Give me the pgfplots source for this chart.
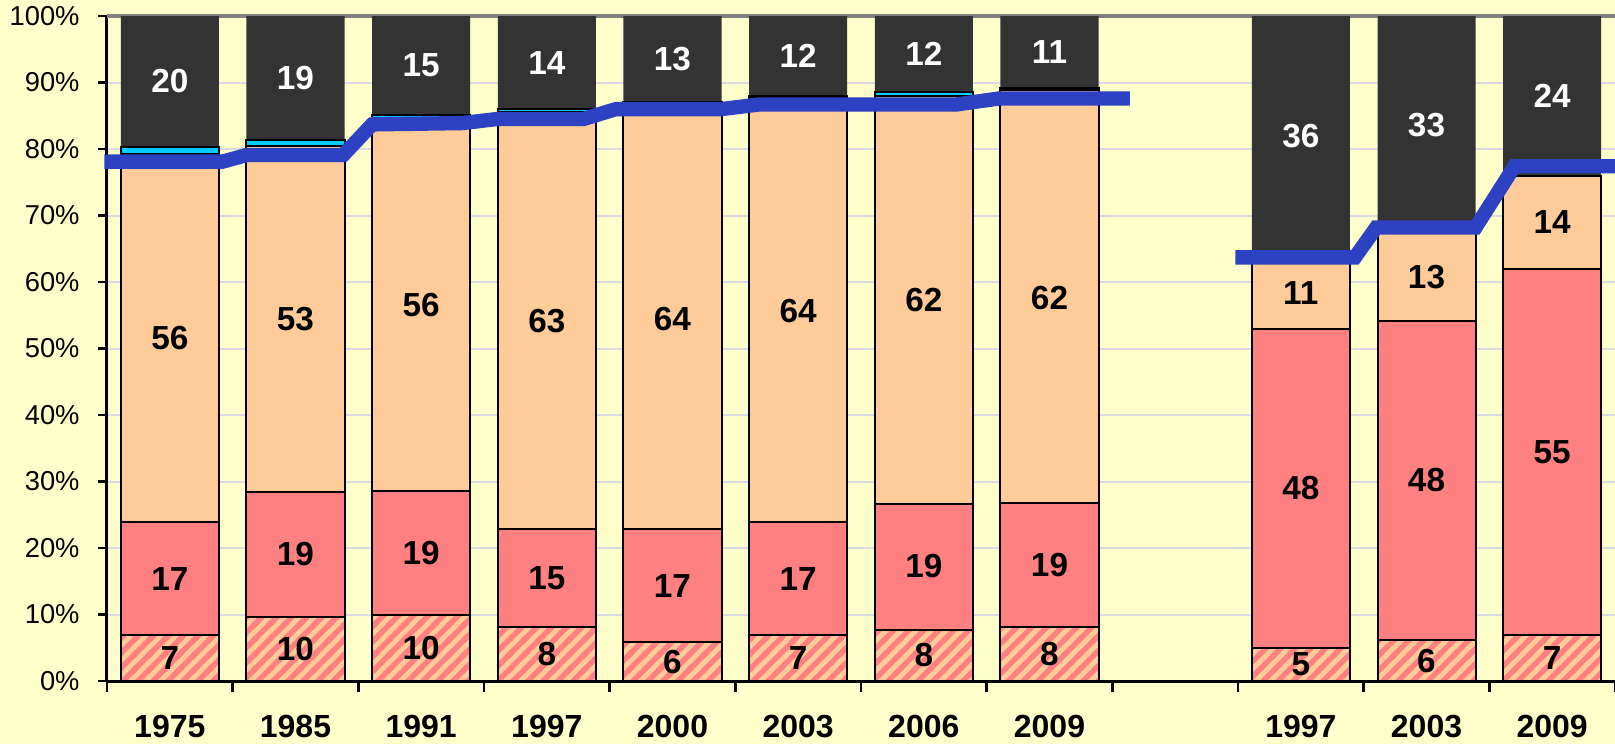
\documentclass[border=0pt]{standalone}
\usepackage{fontspec}
\setmainfont{Liberation Sans}
\usepackage{pgfplots}
\pgfplotsset{compat=1.18}
\usepackage{pgfplotstable}
\usetikzlibrary{patterns}

\definecolor{bgy}{HTML}{FFFFCC}
\definecolor{darkseg}{HTML}{333333}
\definecolor{peach}{HTML}{FFCC99}
\definecolor{salmon}{HTML}{FF8080}
\definecolor{cyanseg}{HTML}{00CCFF}
\definecolor{lineblue}{HTML}{2D42C2}
\definecolor{gridc}{HTML}{DADAE2}

\pgfdeclarepatternformonly{thickNE}{\pgfqpoint{-1.2pt}{-1.2pt}}{\pgfqpoint{5.7pt}{5.7pt}}{\pgfqpoint{4.5pt}{4.5pt}}{%
  \pgfsetlinewidth{1.6pt}%
  \pgfpathmoveto{\pgfqpoint{-0.9pt}{-0.9pt}}%
  \pgfpathlineto{\pgfqpoint{5.4pt}{5.4pt}}%
  \pgfusepath{stroke}}

% stacked shares (per cent of the bar height)
\pgfplotstableread{
x h r p c d
0 6.9 17.0 55.4 1.0 19.7
1 9.7 18.7 52.0 1.0 18.6
2 9.9 18.6 56.0 0.6 14.9
3 8.1 14.7 62.7 0.5 14.0
4 5.8 17.0 63.9 0.3 13.0
5 6.9 17.0 63.7 0.4 12.0
6 7.7 18.9 61.4 0.6 11.4
7 8.1 18.6 62.1 0.3 10.9
9 5.0 47.9 11.0 0.0 36.1
10 6.1 48.0 13.2 0.0 32.7
11 6.9 55.1 14.0 0.0 24.0
}\bars

% labels (black), at the centre of their segments
\pgfplotstableread{
x y lab
0 3.45 7
0 15.4 17
0 51.6 56
1 4.85 10
1 19.05 19
1 54.4 53
2 4.95 10
2 19.2 19
2 56.5 56
3 4.05 8
3 15.45 15
3 54.15 63
4 2.9 6
4 14.3 17
4 54.5 64
5 3.45 7
5 15.4 17
5 55.6 64
6 3.85 8
6 17.25 19
6 57.3 62
7 4.05 8
7 17.4 19
7 57.6 62
9 2.5 5
9 29.0 48
9 58.4 11
10 3.05 6
10 30.15 48
10 60.75 13
11 3.45 7
11 34.45 55
11 69.05 14
}\blacklabels

% labels (white) in the dark segments
\pgfplotstableread{
x y lab
0 90.15 20
1 90.7 19
2 92.55 15
3 93.0 14
4 93.5 13
5 94.0 12
6 94.3 12
7 94.55 11
9 81.95 36
10 83.65 33
11 88.0 24
}\whitelabels

\pgfplotsset{
  frame/.style={
    at={(0pt,0pt)}, anchor=south west, scale only axis,
    width=452.4pt, height=199.5pt,
    xmin=-0.5, xmax=11.5, ymin=0, ymax=100,
  }
}

\begin{document}
\begin{tikzpicture}
\fill[bgy] (-32.1pt,-18.9pt) rectangle (452.4pt,204.3pt);
\begin{axis}[frame,
  ybar stacked, bar width=0.78,
  axis x line*=bottom, axis y line*=left,
  x axis line style={-, line width=0.9pt, black},
  y axis line style={-, line width=0.9pt, black},
  tick align=outside,
  major tick length=2.7pt, minor tick length=3.3pt,
  tick style={line width=0.8pt, black},
  major x tick style={draw=none},
  xtick={0,1,2,3,4,5,6,7,9,10,11},
  xticklabels={1975,1985,1991,1997,2000,2003,2006,2009,1997,2003,2009},
  minor xtick={-0.5,0.5,...,11.5},
  xticklabel style={font=\fontsize{9.6}{10}\selectfont\bfseries, yshift=-3.9pt},
  ytick={0,10,...,90},
  yticklabels={0\%,10\%,20\%,30\%,40\%,50\%,60\%,70\%,80\%,90\%},
  extra y ticks={100},
  extra y tick labels={100\%},
  extra y tick style={major grid style={draw=gray, line width=1pt}},
  yticklabel style={font=\fontsize{8.2}{9}\selectfont, xshift=-2pt},
  ymajorgrids=true,
  major grid style={draw=gridc, line width=0.6pt},
]
\addplot[fill=peach, draw=black, line width=0.6pt,
  postaction={pattern=thickNE, pattern color=salmon}]
  table[x=x, y=h] {\bars};
\addplot[fill=salmon, draw=black, line width=0.6pt] table[x=x, y=r] {\bars};
\addplot[fill=peach, draw=black, line width=0.6pt] table[x=x, y=p] {\bars};
\addplot[fill=cyanseg, draw=black, line width=0.6pt] table[x=x, y=c] {\bars};
\addplot[fill=darkseg, draw=none] table[x=x, y=d] {\bars};
\end{axis}
\begin{axis}[frame, axis lines=none, clip=false]
\addplot[line width=4.3pt, lineblue, mark=none] coordinates {
 (-0.52,78.1) (0.42,78.1) (0.61,79.1) (1.38,79.1) (1.61,83.7) (2.33,83.9)
 (2.6,84.5) (3.29,84.5) (3.55,86.0) (4.39,86.0) (4.69,86.7) (6.26,86.7)
 (6.6,87.6) (7.64,87.6)};
\addplot[line width=4.3pt, lineblue, mark=none] coordinates {
 (8.48,63.7) (9.43,63.7) (9.6,68.2) (10.39,68.2) (10.7,77.4) (11.5,77.4)};
\addplot[draw=none, mark=none, nodes near coords, point meta=explicit symbolic,
  every node near coord/.append style={anchor=center, text=black,
    font=\fontsize{10}{12}\selectfont\bfseries}]
  table[x=x, y=y, meta=lab] {\blacklabels};
\addplot[draw=none, mark=none, nodes near coords, point meta=explicit symbolic,
  every node near coord/.append style={anchor=center, text=white,
    font=\fontsize{10}{12}\selectfont\bfseries}]
  table[x=x, y=y, meta=lab] {\whitelabels};
\end{axis}
\pgfresetboundingbox
\path[use as bounding box] (-32.1pt,-18.9pt) rectangle (452.4pt,204.3pt);
\end{tikzpicture}
\end{document}
